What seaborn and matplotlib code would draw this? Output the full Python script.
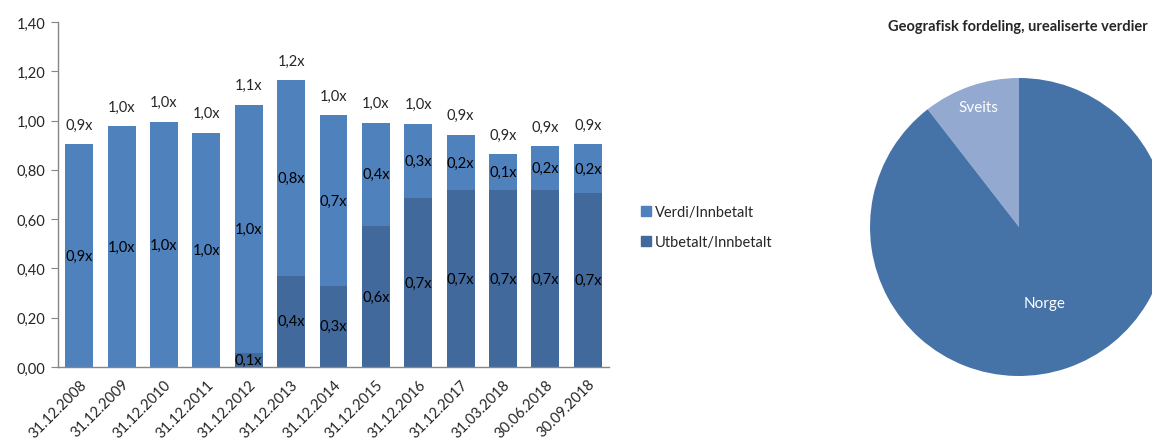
import numpy as np
import pandas as pd
import matplotlib
matplotlib.use("Agg")
import matplotlib.pyplot as plt
from matplotlib.patches import Patch
import seaborn as sns

# data
dates = ["31.12.2008", "31.12.2009", "31.12.2010", "31.12.2011", "31.12.2012",
         "31.12.2013", "31.12.2014", "31.12.2015", "31.12.2016", "31.12.2017",
         "31.03.2018", "30.06.2018", "30.09.2018"]
utbetalt = [0.0, 0.0, 0.0, 0.0, 0.058, 0.371, 0.330, 0.572, 0.684, 0.717, 0.717, 0.717, 0.705]
verdi = [0.905, 0.977, 0.995, 0.951, 1.006, 0.794, 0.692, 0.420, 0.304, 0.226, 0.148, 0.179, 0.199]

pie_labels = ["Sveits", "Norge"]
pie_values = [10.5, 89.5]

LIGHT = "#4F81BD"
DARK = "#41699B"
NORGE = "#4673A7"
SVEITS = "#94A9D0"
AXIS = "#868686"
FS = 10.5

sns.set_style("white")
plt.rcParams["font.family"] = ["Lato", "DejaVu Sans"]

df = pd.DataFrame({"dato": dates, "utbetalt": utbetalt, "verdi": verdi})
df["total"] = df["utbetalt"] + df["verdi"]


def fmt(v):
    return f"{v:.1f}x".replace(".", ",")


fig = plt.figure(figsize=(11.52, 4.39), dpi=100)
ax = fig.add_axes([58 / 1152, 71 / 439, 551 / 1152, 345 / 439])

sns.barplot(data=df, x="dato", y="total", color=LIGHT, saturation=1, width=0.66,
            linewidth=0, ax=ax)
sns.barplot(data=df, x="dato", y="utbetalt", color=DARK, saturation=1, width=0.66,
            linewidth=0, ax=ax)

for i, row in df.iterrows():
    ax.text(i, row["utbetalt"] + row["verdi"] / 2, fmt(row["verdi"]),
            ha="center", va="center", fontsize=FS, color="black")
    if row["utbetalt"] > 0:
        ax.text(i, row["utbetalt"] / 2, fmt(row["utbetalt"]),
                ha="center", va="center", fontsize=FS, color="black")
    ax.annotate(fmt(row["total"]), (i, row["total"]), xytext=(0, 14),
                textcoords="offset points", ha="center", va="center", fontsize=FS)

ax.set_xlim(-0.5, len(dates) - 0.5)
ax.set_ylim(0, 1.4)
ax.set_yticks(np.arange(0, 1.41, 0.2))
ax.set_yticklabels([f"{v:.2f}".replace(".", ",") for v in np.arange(0, 1.41, 0.2)], fontsize=FS)
ax.set_xticks(range(len(dates)))
ax.set_xticklabels(dates, rotation=45, ha="right", rotation_mode="anchor", fontsize=FS)
ax.tick_params(axis="x", length=0, pad=7)
ax.set_xticks(np.arange(-0.5, len(dates), 1), minor=True)
ax.tick_params(axis="x", which="minor", length=5, color=AXIS, direction="out")
ax.tick_params(axis="y", length=5, color=AXIS, direction="out", left=True, pad=4)
ax.set_xlabel("")
ax.set_ylabel("")
for s in ["top", "right"]:
    ax.spines[s].set_visible(False)
for s in ["left", "bottom"]:
    ax.spines[s].set_color(AXIS)
    ax.spines[s].set_linewidth(1)

handles = [Patch(color=LIGHT, label="Verdi/Innbetalt"),
           Patch(color=DARK, label="Utbetalt/Innbetalt")]
fig.legend(handles=handles, loc="center left", bbox_to_anchor=(628 / 1152, 1 - 228 / 439),
           frameon=False, fontsize=FS, handlelength=0.65, handleheight=0.65,
           handletextpad=0.3, labelspacing=1.1)

# pie
pax = fig.add_axes([870 / 1152, 62 / 439, 298 / 1152, 298 / 439])
wedges, _ = pax.pie(pie_values, colors=[SVEITS, NORGE], startangle=90, counterclock=True,
                    wedgeprops=dict(linewidth=0))
for w, lab, r in zip(wedges, pie_labels, [0.85, 0.54]):
    ang = np.deg2rad((w.theta1 + w.theta2) / 2)
    pax.text(r * np.cos(ang), r * np.sin(ang), lab, ha="center", va="center",
             color="white", fontsize=11)
pax.set_xlim(-1, 1)
pax.set_ylim(-1, 1)
pax.set_aspect("equal")
pax.axis("off")

fig.text(1018 / 1152, 1 - 27 / 439, "Geografisk fordeling, urealiserte verdier",
         ha="center", va="center", fontsize=10.5, fontweight="bold")

fig.savefig("out.png", dpi=100)
